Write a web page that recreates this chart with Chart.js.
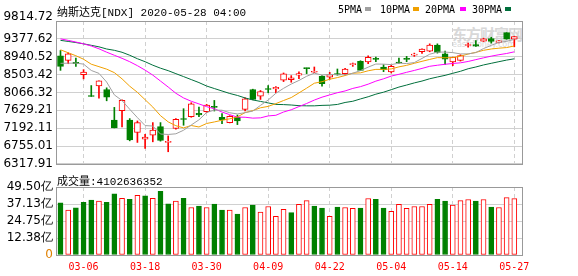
<!DOCTYPE html>
<html><head><meta charset="utf-8">
<script src="https://cdn.jsdelivr.net/npm/chart.js@4.4.1/dist/chart.umd.min.js"></script>
<style>
html,body{margin:0;padding:0;background:#fff;width:578px;height:276px;overflow:hidden;position:relative;}
.t{position:absolute;white-space:nowrap;line-height:1;color:#000;z-index:3;}
.mono11{font:11px "Liberation Mono","Noto Sans CJK SC",monospace;}
.mono10{font:10px "DejaVu Sans Mono","Noto Sans CJK SC",monospace;}
.sw{position:absolute;width:6px;height:4px;z-index:3;}
.wm{position:absolute;z-index:0;color:#d8d8d8;white-space:nowrap;line-height:1;}
canvas{position:absolute;left:0;z-index:1;}
#c1{top:0;}
#c2{top:172px;}
</style></head><body>
<div class="wm" style="left:452px;top:23px;font:bold 15px 'Noto Sans CJK SC';letter-spacing:-1px;">东方财富网</div>
<div class="wm" style="left:452px;top:40px;font:8px 'DejaVu Sans';">eastmoney.com</div>
<div class="t mono11" id="title" style="left:57px;top:3px;"></div>
<div class="t mono10" style="left:338px;top:4px;">5PMA</div><div class="sw" id="sw0" style="left:365px;top:7px;"></div>
<div class="t mono10" style="left:380px;top:4px;">10PMA</div><div class="sw" id="sw1" style="left:413px;top:7px;"></div>
<div class="t mono10" style="left:425px;top:4px;">20PMA</div><div class="sw" id="sw2" style="left:460px;top:7px;"></div>
<div class="t mono10" style="left:472px;top:4px;">30PMA</div><div class="sw" id="sw3" style="left:505px;top:7px;"></div>
<div class="t mono11" id="volLabel" style="left:57px;top:172px;"></div>
<canvas id="c1" width="578" height="172"></canvas>
<canvas id="c2" width="578" height="104"></canvas>
<script>
// ---------------- data ----------------
const titleText = '纳斯达克[NDX] 2020-05-28 04:00';
const dates = ['03-03','03-04','03-05','03-06','03-09','03-10','03-11','03-12','03-13','03-16',
  '03-17','03-18','03-19','03-20','03-23','03-24','03-25','03-26','03-27','03-30',
  '03-31','04-01','04-02','04-03','04-06','04-07','04-08','04-09','04-13','04-14',
  '04-15','04-16','04-17','04-20','04-21','04-22','04-23','04-24','04-27','04-28',
  '04-29','04-30','05-01','05-04','05-05','05-06','05-07','05-08','05-11','05-12',
  '05-13','05-14','05-15','05-18','05-19','05-20','05-21','05-22','05-26','05-27'];
const xTickIdx = [3,11,19,27,35,43,51,59];
const openP = [8965,8850,8802,8503,7986,8229,8139,7394,7622,7394,
  7087,6925,7022,7233,6845,7185,7428,7476,7557,7597,
  7726,7459,7330,7459,7654,8139,7977,8163,8155,8365,
  8382,8487,8657,8561,8462,8438,8530,8528,8746,8827,
  8811,8892,8690,8568,8802,8892,8981,9062,9078,9224,
  9013,8811,8851,9215,9240,9321,9386,9288,9531,9370];
const highP = [9093,9037,8909,8625,8236,8350,8180,7702,7889,7428,
  7370,7046,7330,7330,7005,7428,7670,7816,7710,7775,
  7872,7549,7500,7516,7937,8147,8115,8236,8211,8544,
  8479,8569,8665,8690,8479,8560,8641,8657,8787,8843,
  8965,8932,8746,8730,8909,8949,9029,9135,9256,9256,
  9078,8932,8989,9273,9337,9394,9418,9337,9531,9434];
const lowP = [8608,8770,8705,8399,7969,7928,7863,7200,7224,6884,
  6845,6699,6860,6876,6617,7168,7265,7460,7476,7573,
  7613,7306,7322,7281,7613,7888,7896,8059,8059,8333,
  8317,8406,8528,8553,8220,8390,8490,8495,8705,8600,
  8770,8819,8576,8544,8780,8819,8949,9021,9062,9029,
  8754,8722,8835,9175,9192,9313,9273,9280,9370,9183];
const closeP = [8705,9013,8770,8568,7969,8350,7952,7200,7872,6908,
  7330,6974,7144,6893,6860,7411,7405,7792,7516,7759,
  7702,7394,7484,7370,7913,7896,8090,8139,8195,8520,
  8422,8528,8649,8576,8285,8503,8495,8641,8762,8609,
  8924,8876,8625,8706,8787,8876,8997,9127,9224,9046,
  8883,8924,8972,9232,9200,9378,9313,9329,9370,9434];
// volume in 亿 (100 million)
const volume = [37.97,32.7,34.4,38.4,39.9,39.2,38.4,44.5,41.3,40.6,
  43.5,43.0,41.3,46.4,37.2,39.2,41.3,34.6,35.6,34.6,
  37.0,32.7,32.7,29.8,34.6,36.3,31.2,35.3,28.1,33.2,
  30.8,36.8,39.6,35.6,34.1,28.1,34.8,34.6,33.9,34.1,
  41.1,40.6,34.1,31.7,36.8,33.9,35.3,35.3,36.8,40.6,
  39.2,36.3,39.6,40.4,39.2,40.4,34.8,34.6,41.8,41.03];
const lastVolumeText = '4102636352';
const ma5 = [8780,8782,8785,8760,8605,8534,8322,8008,7869,7656,
  7452,7257,7246,7050,7040,7056,7143,7272,7397,7577,
  7635,7633,7571,7542,7573,7611,7751,7882,8047,8168,
  8273,8361,8463,8539,8492,8508,8502,8500,8537,8602,
  8686,8762,8759,8748,8784,8774,8798,8899,9002,9054,
  9055,9041,9010,9011,9042,9141,9219,9290,9318,9365];
const ma10 = [9110,9038,8965,8880,8758,8698,8637,8552,8400,8220,
  8070,7890,7710,7500,7348,7254,7200,7259,7223,7308,
  7346,7388,7422,7469,7575,7623,7692,7726,7794,7870,
  7942,8056,8172,8293,8330,8391,8431,8481,8538,8547,
  8597,8632,8630,8643,8693,8730,8780,8829,8875,8919,
  8915,8920,8954,9007,9048,9098,9130,9150,9165,9204];
const ma20 = [9378,9341,9300,9256,9203,9135,9052,8977,8902,8819,
  8722,8613,8491,8346,8200,8047,7933,7852,7787,7720,
  7669,7588,7524,7464,7461,7439,7446,7493,7509,7589,
  7644,7722,7797,7881,7952,8007,8061,8104,8166,8209,
  8270,8344,8401,8468,8511,8560,8606,8655,8707,8733,
  8756,8776,8792,8825,8870,8914,8955,8990,9020,9061];
const ma30 = [9341,9315,9288,9256,9220,9183,9130,9098,9050,8977,
  8892,8819,8734,8661,8600,8527,8455,8382,8309,8224,
  8163,8103,8042,7994,7933,7884,7848,7811,7775,7770,
  7760,7744,7740,7740,7751,7756,7774,7822,7852,7909,
  7962,8025,8074,8135,8199,8248,8301,8346,8402,8445,
  8485,8536,8585,8647,8690,8740,8780,8820,8859,8890];
const maNames = ['5PMA','10PMA','20PMA','30PMA'];
const priceTicks = [6317.91,6755.01,7192.11,7629.21,8066.32,8503.42,8940.52,9377.62,9814.72];
const volTicks = [0,12.375,24.75,37.125,49.5];
const volTickLabels = ['0','12.38亿','24.75亿','37.13亿','49.50亿'];

// ---------------- style ----------------
const UP = '#ff0000', DOWN = '#008000';
const maColors = ['#a0a0a0','#f0a000','#ff00ff','#006f3c'];
const GRID = '#d0d0d0', FRAME = '#999999';

document.getElementById('title').textContent = titleText;
document.getElementById('volLabel').textContent = '成交量:' + lastVolumeText;
maColors.forEach((c,i)=>document.getElementById('sw'+i).style.background=c);

const idx = dates.map((d,i)=>i);
const candleUp = idx.map(i => closeP[i] >= openP[i]);
const volUp = idx.map(i => i === 0 ? closeP[0] >= openP[0] : closeP[i] >= closeP[i-1]);

const framePlugin = {
  id: 'frame',
  afterDatasetsDraw(chart) {
    const {ctx, chartArea: a} = chart;
    ctx.save();
    ctx.strokeStyle = FRAME; ctx.lineWidth = 1;
    ctx.strokeRect(a.left - 0.5, a.top + 0.5, a.right - a.left + 1, a.bottom - a.top);
    ctx.restore();
  }
};

const xBase = (showLabels) => ({
  type: 'linear', min: -0.455, max: 60.0, offset: false,
  afterBuildTicks: s => { s.ticks = xTickIdx.map(v => ({value: v})); },
  grid: {color: GRID, lineWidth: 1, drawTicks: false, offset: false},
  border: {display: false, dash: [4, 3]},
  ticks: showLabels ? {
    display: true, autoSkip: false, maxRotation: 0, padding: 6, color: UP,
    font: {family: 'DejaVu Sans Mono', size: 10},
    callback: v => dates[v]
  } : {display: false},
  afterFit: s => { s.height = showLabels ? 21 : 0; }
});

const common = {
  responsive: false, animation: false, events: [],
  plugins: {legend: {display: false}, tooltip: {enabled: false}}
};

// ---------------- price chart ----------------
new Chart(document.getElementById('c1'), {
  type: 'line',
  data: {
    datasets: [
      ...[ma5, ma10, ma20, ma30].map((arr, k) => ({
        type: 'line', label: maNames[k],
        data: arr.map((v, i) => ({x: i, y: v})),
        borderColor: maColors[k], borderWidth: 1, pointRadius: 0, tension: 0, fill: false, order: 0
      })),
      {
        type: 'bar', label: 'body', order: 1, grouped: false,
        data: idx.map(i => ({x: i, y: [openP[i], closeP[i]]})),
        backgroundColor: idx.map(i => candleUp[i] ? '#ffffff' : DOWN),
        borderColor: idx.map(i => candleUp[i] ? UP : DOWN),
        borderWidth: 1, borderSkipped: false, barThickness: 6, minBarLength: 1
      },
      {
        type: 'bar', label: 'wick', order: 2, grouped: false,
        data: idx.map(i => ({x: i, y: [lowP[i], highP[i]]})),
        backgroundColor: idx.map(i => candleUp[i] ? UP : DOWN),
        borderWidth: 0, barThickness: 1
      }
    ]
  },
  options: {
    ...common,
    layout: {padding: {left: 0, right: 56, top: 21, bottom: 7}},
    scales: {
      x: xBase(false),
      y: {
        type: 'linear', min: priceTicks[0], max: priceTicks[priceTicks.length - 1],
        afterBuildTicks: s => { s.ticks = priceTicks.map(v => ({value: v})); },
        grid: {color: GRID, drawTicks: false},
        border: {display: false},
        ticks: {
          autoSkip: false, padding: 4, color: '#000',
          font: {family: 'DejaVu Sans', size: 12, lineHeight: 0.67},
          callback: (v) => v === priceTicks[priceTicks.length - 1] ? [v.toFixed(2), ''] : v.toFixed(2)
        },
        afterFit: s => { s.width = 57; }
      }
    }
  },
  plugins: [framePlugin]
});

// ---------------- volume chart ----------------
new Chart(document.getElementById('c2'), {
  type: 'line',
  data: {
    datasets: [{
      type: 'bar', label: '成交量', grouped: false,
      data: idx.map(i => ({x: i, y: volume[i]})),
      backgroundColor: idx.map(i => volUp[i] ? '#ffffff' : DOWN),
      borderColor: idx.map(i => volUp[i] ? UP : DOWN),
      borderWidth: 1, borderSkipped: false, barThickness: 5
    }]
  },
  options: {
    ...common,
    layout: {padding: {left: 0, right: 56, top: 15, bottom: 0}},
    scales: {
      x: xBase(true),
      y: {
        type: 'linear', min: 0, max: 49.5,
        afterBuildTicks: s => { s.ticks = volTicks.map(v => ({value: v})); },
        grid: {color: GRID, drawTicks: false},
        border: {display: false},
        ticks: {
          autoSkip: false, padding: 4,
          color: ctx => ctx.tick && ctx.tick.value === 0 ? '#e08000' : '#000',
          font: {family: 'DejaVu Sans', size: 12},
          callback: v => volTickLabels[volTicks.indexOf(v)]
        },
        afterFit: s => { s.width = 57; }
      }
    }
  },
  plugins: [framePlugin]
});
</script>
</body></html>
